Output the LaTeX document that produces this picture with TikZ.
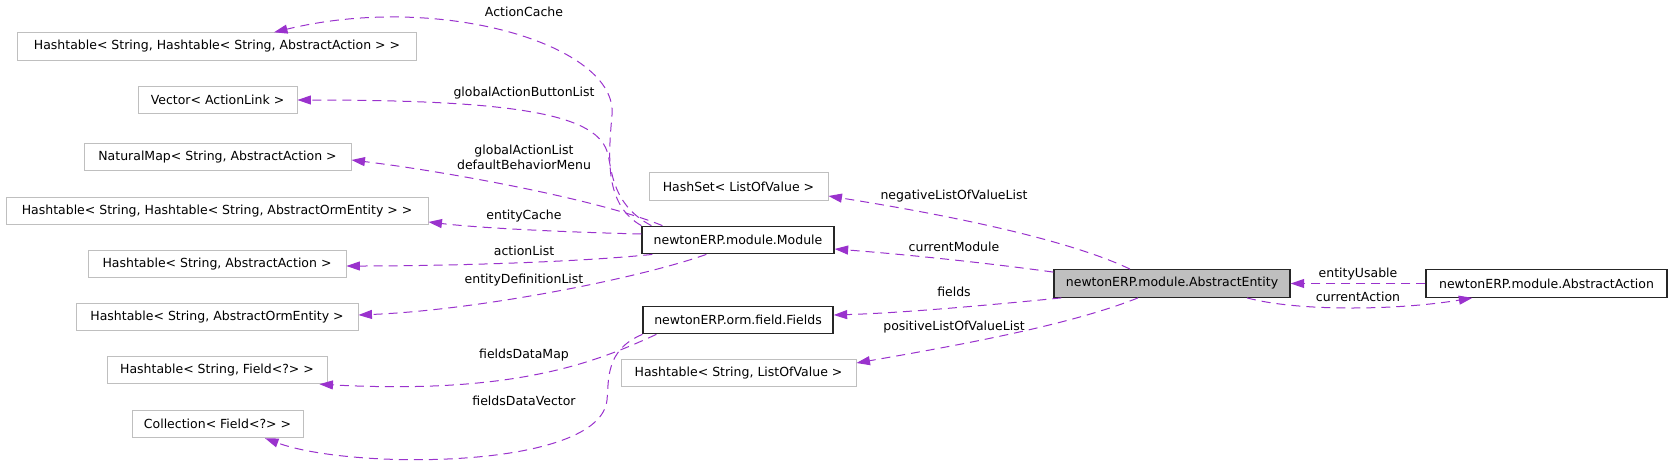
\documentclass[tikz,border=0pt]{standalone}
\usepackage{fontspec}
\setmainfont{DejaVu Sans}
\usetikzlibrary{arrows.meta,calc}
\definecolor{edgec}{HTML}{9A32CD}
\definecolor{greyb}{HTML}{BFBFBF}
\begin{document}
\begin{tikzpicture}[x=1pt,y=-1pt,
  font=\fontsize{12.5}{15}\selectfont,
  box/.style={draw=greyb, line width=0.9pt, minimum height=27.5pt, inner sep=0pt},
  mainbox/.style={draw=black!85, line width=1.3pt, minimum height=27.5pt, inner sep=0pt},
  edge/.style={draw=edgec, line width=1pt, dash pattern=on 9pt off 6pt, -{Triangle[length=13.5pt,width=9pt,fill=edgec]}},
  lbl/.style={inner sep=0pt, align=center}
]
\useasboundingbox (0,0) rectangle (1672,464);
% left column
\node[box, minimum width=399pt] (b1) at (217,46.5) {Hashtable< String, Hashtable< String, AbstractAction > >};
\node[box, minimum width=159pt] (b2) at (217.5,100) {Vector< ActionLink >};
\node[box, minimum width=267pt] (b3) at (217.5,157) {NaturalMap< String, AbstractAction >};
\node[box, minimum width=422pt] (b4) at (217,211) {Hashtable< String, Hashtable< String, AbstractOrmEntity > >};
\node[box, minimum width=258pt] (b5) at (217,264) {Hashtable< String, AbstractAction >};
\node[box, minimum width=282pt] (b6) at (217,317) {Hashtable< String, AbstractOrmEntity >};
\node[box, minimum width=220pt] (b7) at (217,370) {Hashtable< String, Field<?> >};
\node[box, minimum width=171pt] (b8) at (217.5,424) {Collection< Field<?> >};
% middle column
\node[box, minimum width=179pt] (hashset) at (738.5,186.5) {HashSet< ListOfValue >};
\node[mainbox, minimum width=192pt] (module) at (738,240) {newtonERP.module.Module};
\node[mainbox, minimum width=190pt] (fields) at (738,320) {newtonERP.orm.field.Fields};
\node[box, minimum width=235pt] (hlv) at (738.5,373) {Hashtable< String, ListOfValue >};
% right
\node[mainbox, fill=greyb, minimum width=236pt] (entity) at (1172,283.5) {newtonERP.module.AbstractEntity};
\node[mainbox, minimum width=241pt] (action) at (1546.5,283.5) {newtonERP.module.AbstractAction};

% edges from Module
\draw[edge] (module.north west) .. controls (605,205) and (608,160) .. (612,115) .. controls (618,45) and (440,-8) .. ($(b1.north)+(57,0)$);
\draw[edge] ($(module.north west)+(10,0)$) .. controls (612,205) and (612,170) .. (608,155) .. controls (600,115) and (520,100) .. (b2.east);
\draw[edge] ($(module.north west)+(21,0)$) .. controls (600,200) and (450,172) .. ($(b3.east)+(0,3)$);
\draw[edge] ($(module.west)+(0,-6)$) .. controls (560,232) and (480,228) .. ($(b4.east)+(0,11)$);
\draw[edge] ($(module.south west)+(11,0)$) .. controls (580,262) and (450,266) .. ($(b5.east)+(0,2)$);
\draw[edge] ($(module.south west)+(65,0)$) .. controls (640,278) and (480,310) .. ($(b6.east)+(0,-2)$);
% edges from Fields
\draw[edge] ($(fields.south west)+(14,0)$) .. controls (600,360) and (520,395) .. ($(b7.south east)+(-8,0)$);
\draw[edge] (fields.south west) .. controls (605,350) and (609,380) .. (607,400) .. controls (600,470) and (350,470) .. ($(b8.south)+(47.5,0)$);
% edges from AbstractEntity
\draw[edge] ($(entity.north west)+(0,3)$) .. controls (980,262) and (900,254) .. ($(module.east)+(0,9)$);
\draw[edge] ($(entity.north)+(-42,0)$) .. controls (1080,245) and (980,220) .. ($(hashset.east)+(0,9.5)$);
\draw[edge] ($(entity.south west)+(8,0)$) .. controls (980,306) and (900,313) .. ($(fields.east)+(0,-5)$);
\draw[edge] ($(entity.south)+(-34,0)$) .. controls (1070,325) and (960,345) .. ($(hlv.east)+(0,-10)$);
\draw[edge] ($(entity.south)+(75,0)$) .. controls (1300,312) and (1400,310) .. ($(action.south west)+(47,0)$);
\draw[edge] (action.west) -- (entity.east);

% labels
\node[lbl] (lac) at (524,12) {ActionCache};
\node[lbl] (lgab) at (524,93) {globalActionButtonList};
\node[lbl] (lgal) at (524,157.5) {globalActionList\\defaultBehaviorMenu};
\node[lbl] (lec) at (524,216) {entityCache};
\node[lbl] (lal) at (524,251) {actionList};
\node[lbl] (ledl) at (524,280) {entityDefinitionList};
\node[lbl] (lfdm) at (524,355) {fieldsDataMap};
\node[lbl] (lfdv) at (524,401) {fieldsDataVector};
\node[lbl] (lnl) at (954,196) {negativeListOfValueList};
\node[lbl] (lcm) at (954,247) {currentModule};
\node[lbl] (lf) at (954,292) {fields};
\node[lbl] (lpl) at (954,327) {positiveListOfValueList};
\node[lbl] (leu) at (1358,274) {entityUsable};
\node[lbl] (lca) at (1358,297) {currentAction};
\end{tikzpicture}
\end{document}
